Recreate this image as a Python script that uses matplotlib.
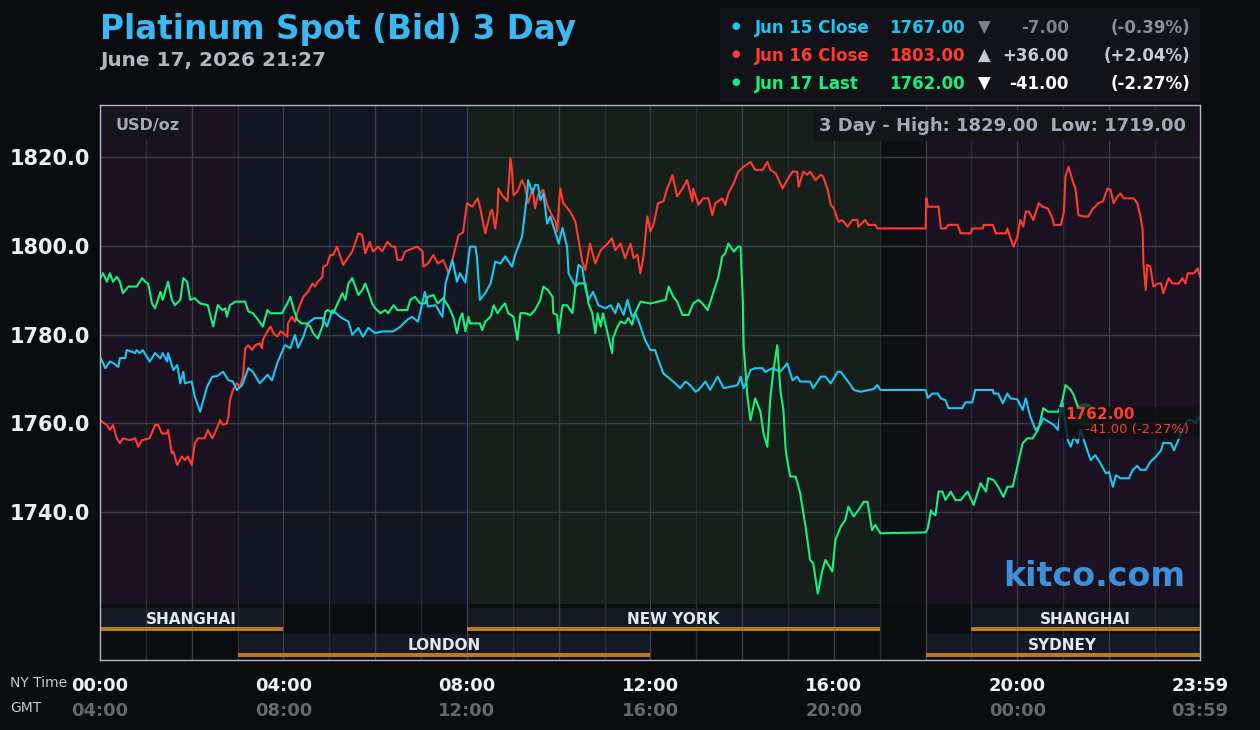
import matplotlib.pyplot as plt
from matplotlib.patches import Rectangle, Circle

# minutes after 00:00 NY time, price in USD/oz
jun15_t = [0, 1, 7, 13, 17, 24, 26, 33, 35, 42, 46, 48, 52, 56, 65, 72, 79, 82, 88, 89,
           96, 101, 105, 109, 111, 120, 124, 131, 140, 147, 153, 161, 168, 174, 179, 186, 194, 200, 209, 219,
           225, 232, 242, 249, 255, 259, 266, 272, 281, 291, 297, 304, 314, 325, 330, 338, 344, 351, 360, 369,
           384, 393, 402, 408, 416, 425, 429, 439, 448, 452, 461, 467, 471, 478, 484, 491, 493, 497, 504, 511,
           517, 524, 530, 539, 543, 552, 559, 560, 566, 569, 573, 576, 580, 585, 589, 596, 600, 605, 611, 613,
           622, 626, 631, 635, 639, 645, 652, 661, 668, 674, 678, 685, 690, 696, 700, 704, 713, 720, 726, 729,
           737, 750, 759, 766, 772, 779, 783, 792, 798, 808, 816, 834, 838, 842, 851, 857, 867, 870, 880, 890,
           899, 906, 912, 916, 929, 933, 943, 949, 956, 965, 969, 982, 986, 995, 1012, 1017, 1021, 1080, 1083, 1089,
           1096, 1100, 1106, 1110, 1128, 1132, 1141, 1145, 1168, 1169, 1175, 1181, 1187, 1191, 1200, 1207, 1211, 1217, 1224, 1230,
           1234, 1248, 1253, 1259, 1266, 1270, 1274, 1279, 1283, 1287, 1296, 1302, 1309, 1316, 1320, 1325, 1329, 1335, 1346, 1351,
           1357, 1361, 1368, 1374, 1381, 1388, 1391, 1401, 1405, 1410, 1416, 1423, 1429, 1433, 1439]
jun15_p = [1774.5, 1774.7, 1772.4, 1773.9, 1773.6, 1772.7, 1774.7, 1774.7, 1776.5, 1776.1, 1775.8, 1776.5, 1775.8, 1776.5, 1773.9, 1775.8, 1774.6, 1775.8, 1773.9, 1775.8,
           1772.0, 1773.1, 1769.0, 1771.6, 1769.0, 1769.4, 1766.0, 1762.6, 1768.2, 1770.5, 1770.6, 1771.6, 1769.7, 1769.4, 1767.5, 1768.6, 1772.4, 1771.6, 1769.0, 1770.9,
           1769.7, 1773.6, 1777.6, 1776.9, 1779.9, 1777.0, 1779.5, 1782.6, 1783.7, 1783.7, 1781.8, 1785.5, 1784.0, 1782.9, 1779.9, 1781.5, 1779.5, 1781.5, 1780.3, 1780.7,
           1780.7, 1781.8, 1783.3, 1784.0, 1782.9, 1789.6, 1786.3, 1786.6, 1784.0, 1791.5, 1796.8, 1791.9, 1793.8, 1791.7, 1799.8, 1799.8, 1797.6, 1787.8, 1789.3, 1791.5,
           1796.4, 1796.0, 1797.6, 1795.3, 1797.9, 1802.0, 1811.8, 1814.8, 1811.8, 1813.7, 1813.7, 1810.3, 1811.8, 1805.0, 1806.6, 1802.8, 1800.5, 1804.0, 1799.8, 1793.8,
           1790.8, 1795.7, 1795.0, 1790.4, 1787.8, 1789.6, 1786.6, 1785.9, 1786.6, 1784.8, 1787.0, 1784.4, 1787.8, 1784.0, 1784.8, 1783.3, 1778.8, 1776.5, 1776.5, 1775.0,
           1771.2, 1769.4, 1767.9, 1769.4, 1768.6, 1767.1, 1767.5, 1769.4, 1767.5, 1770.5, 1767.9, 1768.6, 1770.5, 1767.9, 1772.0, 1772.4, 1772.4, 1771.6, 1772.4, 1771.6,
           1773.5, 1769.7, 1770.5, 1769.4, 1769.4, 1767.9, 1770.5, 1770.5, 1769.0, 1771.6, 1771.6, 1768.6, 1767.5, 1767.1, 1767.7, 1768.6, 1767.5, 1767.5, 1765.7, 1766.7,
           1766.7, 1765.6, 1765.2, 1763.4, 1763.4, 1764.7, 1764.7, 1767.5, 1767.5, 1766.7, 1766.7, 1764.5, 1766.7, 1765.6, 1765.4, 1763.0, 1765.6, 1761.5, 1758.5, 1759.6,
           1761.1, 1759.6, 1758.5, 1764.9, 1756.2, 1754.7, 1757.0, 1755.5, 1758.5, 1756.2, 1751.7, 1752.8, 1750.9, 1748.7, 1749.0, 1745.7, 1748.3, 1747.6, 1747.6, 1749.5,
           1750.4, 1749.5, 1749.5, 1751.3, 1752.4, 1753.9, 1755.6, 1755.5, 1753.9, 1755.9, 1758.5, 1760.7, 1760.7, 1760.0, 1761.5]

jun16_t = [0, 9, 13, 17, 22, 26, 30, 39, 46, 50, 55, 65, 72, 76, 81, 88, 89, 94, 96, 101,
           107, 111, 115, 120, 124, 128, 137, 141, 147, 153, 157, 161, 166, 168, 170, 174, 179, 183, 187, 190,
           194, 199, 203, 209, 212, 213, 219, 223, 227, 232, 236, 240, 245, 246, 251, 255, 259, 266, 272, 278,
           281, 285, 291, 292, 297, 301, 305, 310, 318, 330, 338, 343, 347, 353, 357, 364, 369, 376, 382, 386,
           389, 395, 399, 415, 422, 423, 429, 436, 442, 449, 456, 461, 469, 475, 480, 487, 494, 497, 504, 511,
           513, 517, 520, 521, 526, 533, 537, 539, 541, 546, 552, 556, 560, 566, 569, 573, 580, 585, 592, 596,
           598, 602, 606, 615, 622, 626, 631, 635, 641, 648, 655, 664, 670, 674, 681, 687, 694, 698, 703, 707,
           711, 716, 720, 724, 730, 737, 742, 749, 755, 762, 768, 775, 776, 783, 789, 796, 801, 805, 814, 818,
           822, 829, 835, 842, 851, 857, 867, 873, 877, 884, 893, 899, 906, 912, 914, 920, 925, 929, 936, 943,
           946, 952, 956, 960, 966, 971, 978, 984, 991, 992, 1001, 1005, 1014, 1017, 1080, 1081, 1083, 1097, 1100, 1106,
           1110, 1122, 1126, 1139, 1141, 1155, 1156, 1168, 1172, 1185, 1187, 1191, 1195, 1200, 1204, 1208, 1211, 1215, 1221, 1228,
           1233, 1240, 1246, 1248, 1257, 1261, 1263, 1267, 1272, 1276, 1280, 1287, 1293, 1299, 1302, 1306, 1312, 1318, 1322, 1326,
           1331, 1335, 1339, 1352, 1357, 1361, 1364, 1365, 1368, 1370, 1374, 1378, 1384, 1388, 1391, 1398, 1403, 1411, 1416, 1420,
           1423, 1431, 1436, 1439]
jun16_p = [1760.7, 1759.6, 1758.5, 1759.6, 1756.6, 1755.5, 1756.6, 1756.2, 1756.6, 1754.7, 1756.2, 1756.6, 1759.6, 1759.6, 1757.7, 1757.7, 1758.5, 1753.2, 1753.6, 1750.6,
           1752.5, 1751.7, 1752.5, 1750.6, 1755.5, 1756.6, 1756.6, 1758.5, 1756.6, 1758.9, 1760.7, 1759.6, 1760.0, 1761.5, 1765.2, 1767.5, 1769.0, 1768.2, 1770.5, 1776.9,
           1777.6, 1776.5, 1777.6, 1778.0, 1776.9, 1778.8, 1780.7, 1781.8, 1780.3, 1779.5, 1780.7, 1780.3, 1779.5, 1782.5, 1784.0, 1782.9, 1785.5, 1788.5, 1789.6, 1791.5,
           1790.8, 1791.9, 1793.0, 1795.3, 1795.7, 1797.9, 1797.9, 1799.8, 1795.7, 1798.7, 1802.8, 1802.4, 1798.3, 1800.9, 1798.7, 1799.8, 1798.7, 1800.9, 1799.8, 1799.8,
           1796.8, 1796.8, 1798.7, 1799.8, 1798.7, 1795.3, 1796.0, 1797.9, 1796.0, 1796.8, 1793.8, 1796.8, 1802.4, 1803.0, 1809.6, 1808.8, 1810.7, 1808.8, 1802.8, 1807.7,
           1808.1, 1803.9, 1807.7, 1812.9, 1811.4, 1810.0, 1819.7, 1816.7, 1811.4, 1812.2, 1814.8, 1813.3, 1809.6, 1812.9, 1808.4, 1811.4, 1812.6, 1809.2, 1806.6, 1805.4,
           1803.2, 1812.9, 1809.6, 1807.7, 1805.4, 1801.3, 1796.4, 1794.5, 1800.5, 1796.0, 1799.0, 1800.5, 1801.7, 1799.0, 1800.5, 1797.2, 1800.5, 1797.2, 1798.0, 1793.8,
           1797.6, 1806.6, 1803.2, 1804.7, 1809.6, 1810.0, 1812.9, 1815.9, 1811.1, 1812.9, 1814.8, 1810.0, 1812.9, 1809.2, 1810.7, 1810.7, 1806.9, 1809.6, 1810.7, 1809.2,
           1811.8, 1814.1, 1816.7, 1817.8, 1818.9, 1817.1, 1817.1, 1818.9, 1817.1, 1816.3, 1812.9, 1814.8, 1816.7, 1816.7, 1813.3, 1816.7, 1816.0, 1816.7, 1814.8, 1816.0,
           1815.6, 1812.6, 1809.2, 1808.4, 1805.4, 1805.8, 1804.3, 1805.8, 1805.8, 1804.3, 1805.8, 1804.7, 1804.7, 1803.9, 1803.9, 1810.7, 1808.8, 1808.8, 1803.9, 1803.9,
           1804.7, 1804.7, 1802.8, 1802.8, 1803.9, 1803.9, 1804.7, 1804.7, 1802.8, 1802.8, 1803.9, 1801.7, 1799.8, 1802.0, 1805.8, 1804.3, 1807.7, 1807.7, 1805.8, 1809.6,
           1808.8, 1808.4, 1806.2, 1804.7, 1804.7, 1807.7, 1815.6, 1817.8, 1814.8, 1812.9, 1806.9, 1806.6, 1806.6, 1808.4, 1808.8, 1809.6, 1810.0, 1812.9, 1812.6, 1809.6,
           1811.1, 1811.8, 1810.7, 1810.7, 1809.6, 1806.6, 1803.6, 1796.0, 1790.0, 1795.7, 1795.3, 1790.8, 1791.5, 1791.5, 1789.3, 1792.7, 1791.5, 1791.5, 1792.7, 1791.5,
           1793.8, 1793.8, 1794.9, 1793.0]

jun17_t = [0, 4, 9, 13, 17, 22, 26, 30, 37, 48, 55, 59, 63, 68, 72, 79, 82, 89, 94, 98,
           105, 109, 114, 118, 124, 131, 141, 148, 154, 160, 164, 166, 170, 177, 190, 194, 200, 207, 213, 219,
           223, 238, 245, 249, 253, 258, 264, 271, 275, 279, 285, 291, 295, 298, 305, 312, 317, 321, 325, 330,
           334, 338, 343, 347, 351, 356, 360, 367, 373, 377, 384, 389, 393, 402, 406, 412, 419, 425, 429, 436,
           442, 449, 456, 462, 467, 471, 474, 478, 482, 484, 491, 497, 500, 504, 511, 515, 520, 526, 530, 534,
           541, 546, 550, 556, 563, 569, 576, 580, 586, 592, 593, 598, 600, 605, 611, 618, 622, 626, 635, 639,
           644, 648, 651, 655, 658, 664, 670, 671, 677, 681, 687, 691, 696, 700, 707, 720, 740, 744, 750, 755,
           762, 770, 776, 783, 788, 795, 802, 809, 814, 818, 822, 829, 835, 838, 841, 842, 847, 851, 857, 864,
           868, 873, 877, 881, 886, 890, 894, 897, 899, 903, 910, 916, 923, 929, 933, 939, 945, 949, 958, 962,
           969, 975, 979, 986, 992, 999, 1004, 1010, 1014, 1021, 1080, 1083, 1087, 1090, 1093, 1097, 1102, 1106, 1113, 1119,
           1126, 1135, 1143, 1152, 1159, 1162, 1169, 1175, 1182, 1187, 1194, 1200, 1207, 1213, 1220, 1227, 1230, 1234, 1240, 1254,
           1259, 1263, 1270, 1274, 1279, 1286, 1287]
jun17_p = [1792.5, 1793.8, 1791.9, 1793.8, 1791.9, 1793.0, 1791.9, 1789.3, 1790.8, 1790.8, 1792.7, 1791.9, 1791.5, 1787.0, 1785.9, 1789.6, 1787.8, 1791.9, 1787.8, 1786.6,
           1787.8, 1792.7, 1791.9, 1787.8, 1788.2, 1787.0, 1786.6, 1781.8, 1786.6, 1785.5, 1785.9, 1784.0, 1786.6, 1787.4, 1787.4, 1785.2, 1784.8, 1783.3, 1781.8, 1785.5,
           1784.8, 1784.8, 1787.0, 1788.5, 1785.9, 1783.3, 1782.5, 1782.5, 1781.8, 1780.3, 1779.1, 1781.8, 1785.2, 1785.5, 1784.8, 1787.4, 1789.3, 1787.8, 1791.5, 1792.7,
           1790.8, 1788.9, 1790.0, 1791.5, 1789.6, 1787.0, 1785.9, 1784.8, 1785.5, 1784.8, 1786.6, 1785.5, 1785.5, 1785.5, 1787.8, 1788.5, 1787.0, 1787.0, 1788.5, 1788.9,
           1787.0, 1788.2, 1786.3, 1784.0, 1780.3, 1783.7, 1784.8, 1780.7, 1784.0, 1782.5, 1782.5, 1782.5, 1781.0, 1782.9, 1784.0, 1786.6, 1784.8, 1786.3, 1787.0, 1784.8,
           1784.0, 1778.8, 1784.8, 1784.8, 1784.4, 1785.5, 1787.8, 1790.8, 1790.0, 1788.5, 1784.8, 1784.4, 1780.3, 1786.6, 1786.6, 1784.8, 1790.8, 1791.5, 1791.5, 1787.0,
           1784.8, 1780.3, 1784.8, 1781.8, 1784.8, 1780.3, 1775.8, 1779.1, 1781.8, 1782.9, 1782.5, 1783.7, 1782.2, 1784.8, 1787.4, 1787.0, 1787.8, 1790.8, 1788.5, 1787.4,
           1784.4, 1784.4, 1787.0, 1787.8, 1787.0, 1785.5, 1789.3, 1793.0, 1797.6, 1798.3, 1800.5, 1798.7, 1799.8, 1799.8, 1787.0, 1777.3, 1766.0, 1760.7, 1765.6, 1762.6,
           1757.7, 1754.7, 1766.0, 1772.0, 1777.6, 1767.5, 1763.0, 1754.0, 1751.7, 1748.0, 1748.0, 1744.2, 1736.7, 1729.2, 1728.5, 1721.6, 1726.9, 1729.2, 1726.6, 1733.7,
           1736.7, 1738.2, 1741.2, 1739.0, 1740.4, 1742.3, 1742.3, 1735.9, 1737.1, 1735.2, 1735.4, 1736.3, 1740.4, 1739.6, 1739.3, 1744.6, 1744.6, 1742.7, 1744.6, 1742.7,
           1742.7, 1744.6, 1741.6, 1746.5, 1744.6, 1747.6, 1747.2, 1745.7, 1743.4, 1745.7, 1745.7, 1750.2, 1755.5, 1756.6, 1756.6, 1758.5, 1760.4, 1763.4, 1762.6, 1762.6,
           1765.2, 1768.6, 1767.5, 1766.3, 1763.8, 1762.6, 1762.0]

# background bands (NY time, minutes)
bands = [(0, 180, '#1a1220'), (180, 480, '#121622'), (480, 1020, '#161f19'),
         (1020, 1080, '#0e0f12'), (1080, 1439, '#1a1220')]
# trading sessions: (name, start, end, row)
sessions = [('SHANGHAI', 0, 240, 0), ('NEW YORK', 480, 1020, 0), ('SHANGHAI', 1140, 1439, 0),
            ('LONDON', 180, 720, 1), ('SYDNEY', 1080, 1439, 1)]

ny_ticks = [0, 240, 480, 720, 960, 1200, 1439]
ny_labels = ['00:00', '04:00', '08:00', '12:00', '16:00', '20:00', '23:59']
gmt_labels = ['04:00', '08:00', '12:00', '16:00', '20:00', '00:00', '03:59']
y_ticks = [1740, 1760, 1780, 1800, 1820]

BLUE = '#1ec6f2'
RED = '#ff3b2f'
GREEN = '#16f07f'
BG = '#0b0c10'

W, H = 1260, 730
fig = plt.figure(figsize=(W / 100, H / 100), dpi=100, facecolor=BG)


def fx(x):
    return x / W


def fy(y):
    return 1 - y / H


ax = fig.add_axes([fx(100), fy(660), 1100 / W, 555 / H])
ax.set_facecolor('#0c0d10')
ax.set_xlim(0, 1439)
ax.set_ylim(1706.65, 1831.72)
tr = ax.get_xaxis_transform()

price_bottom = 0.101
for a, b, c in bands:
    ax.axvspan(a, b, ymin=price_bottom, ymax=1, color=c, lw=0, zorder=0)

# session bars
for name, a, b, row in sessions:
    y0 = 0.0595 if row == 0 else 0.0126
    ax.add_patch(Rectangle((a, y0), b - a, 0.034, transform=tr, color='#151923', lw=0, zorder=0.5))
    ax.add_patch(Rectangle((a, y0 - 0.0072), b - a, 0.0072, transform=tr, color='#b97c16', lw=0, zorder=3))
    ax.text((a + b) / 2, y0 + 0.014, name, transform=tr, ha='center', va='center',
            color='#e4e8f0', fontsize=11, fontweight='bold', zorder=2.5)

# grid
for h in range(1, 24):
    ax.axvline(h * 60, color='#3a3d48' if h % 2 == 0 else '#2a2c35', lw=1, zorder=1)
for v in y_ticks:
    ax.axhline(v, color='#3a3d48', lw=1, zorder=1)

ax.plot(jun16_t, jun16_p, color=RED, lw=1.5, zorder=4)
ax.plot(jun15_t, jun15_p, color=BLUE, lw=1.5, zorder=5)
ax.plot(jun17_t, jun17_p, color=GREEN, lw=1.5, zorder=6)

# last price marker and label
ax.add_patch(Circle((jun17_t[-1], jun17_p[-1]), 0, zorder=7))
ax.scatter([jun17_t[-1]], [jun17_p[-1]], s=260, color=GREEN, alpha=0.25, lw=0, zorder=7)
ax.add_patch(Rectangle((1254, 1756.4), 190, 7.2, color='#0f1013', alpha=0.78, lw=0, zorder=8))
ax.text(1263, 1762.0, '1762.00', color=RED, fontsize=11, fontweight='bold', va='center', ha='left', zorder=9)
ax.text(1288, 1758.6, '-41.00 (-2.27%)', color=RED, fontsize=9.5, va='center', ha='left', zorder=9)

ax.set_yticks(y_ticks)
ax.set_yticklabels([f'{v:.1f}' for v in y_ticks])
ax.tick_params(axis='y', length=0, pad=7, labelsize=15, labelcolor='#eceff4')
for t in ax.get_yticklabels():
    t.set_fontweight('bold')
ax.set_xticks([])
for s in ax.spines.values():
    s.set_color('#b0b8c8')
    s.set_linewidth(1)
    s.set_zorder(10)

# box labels inside the plot
ax.text(0.0145, 0.963, 'USD/oz', transform=ax.transAxes, color='#a3a9b6', fontsize=11.5,
        fontweight='bold', ha='left', va='center', zorder=9,
        bbox=dict(boxstyle='square,pad=0.45', fc='#15141a', ec='none'))
ax.text(0.9875, 0.963, '3 Day - High: 1829.00  Low: 1719.00', transform=ax.transAxes, color='#a3a9b6',
        fontsize=13, fontweight='bold', ha='right', va='center', zorder=9,
        bbox=dict(boxstyle='square,pad=0.35', fc='#141519', ec='none'))
ax.text(0.9865, 0.15, 'kitco.com', transform=ax.transAxes, color='#3f90d8', fontsize=24,
        fontweight='bold', ha='right', va='center', zorder=9)

# time axis labels
for t, a, g in zip(ny_ticks, ny_labels, gmt_labels):
    ax.text(t, -0.047, a, transform=tr, ha='center', va='center', color='#f0f2f6', fontsize=13, fontweight='bold')
    ax.text(t, -0.092, g, transform=tr, ha='center', va='center', color='#64676e', fontsize=13, fontweight='bold')
fig.text(fx(10), fy(683), 'NY Time', color='#c4c8d0', fontsize=10, ha='left', va='center')
fig.text(fx(10), fy(708), 'GMT', color='#c4c8d0', fontsize=10, ha='left', va='center')

# title
fig.text(fx(100), fy(30), 'Platinum Spot (Bid) 3 Day', color='#3bb8f2', fontsize=23.5, fontweight='bold',
         ha='left', va='center')
fig.text(fx(100), fy(60), 'June 17, 2026 21:27', color='#b2b6be', fontsize=14.4, fontweight='bold',
         ha='left', va='center')

# legend panel
fig.patches.append(Rectangle((fx(720), fy(102)), 480 / W, 94 / H, transform=fig.transFigure,
                             color='#111318', lw=0, zorder=0))
rows = [(28, 'Jun 15 Close', '1767.00', '▼', '-7.00', '(-0.39%)', BLUE, '#7c818b', '#8b8f9a'),
        (56, 'Jun 16 Close', '1803.00', '▲', '+36.00', '(+2.04%)', RED, '#c4c8d0', '#c4c8d0'),
        (84, 'Jun 17 Last', '1762.00', '▼', '-41.00', '(-2.27%)', GREEN, '#ffffff', '#ffffff')]
for y, name, price, arrow, chg, pct, c, c2, c3 in rows:
    fig.text(fx(736), fy(y - 2), '●', color=c, fontsize=7, ha='center', va='center')
    fig.text(fx(755), fy(y), name, color=c, fontsize=12, fontweight='bold', ha='left', va='center')
    fig.text(fx(965), fy(y), price, color=c, fontsize=12, fontweight='bold', ha='right', va='center')
    fig.text(fx(984), fy(y), arrow, color=c2, fontsize=12, ha='center', va='center')
    fig.text(fx(1069), fy(y), chg, color=c2, fontsize=12, fontweight='bold', ha='right', va='center')
    fig.text(fx(1190), fy(y), pct, color=c3, fontsize=12, fontweight='bold', ha='right', va='center')

fig.savefig('out.png', dpi=100, facecolor=BG)
